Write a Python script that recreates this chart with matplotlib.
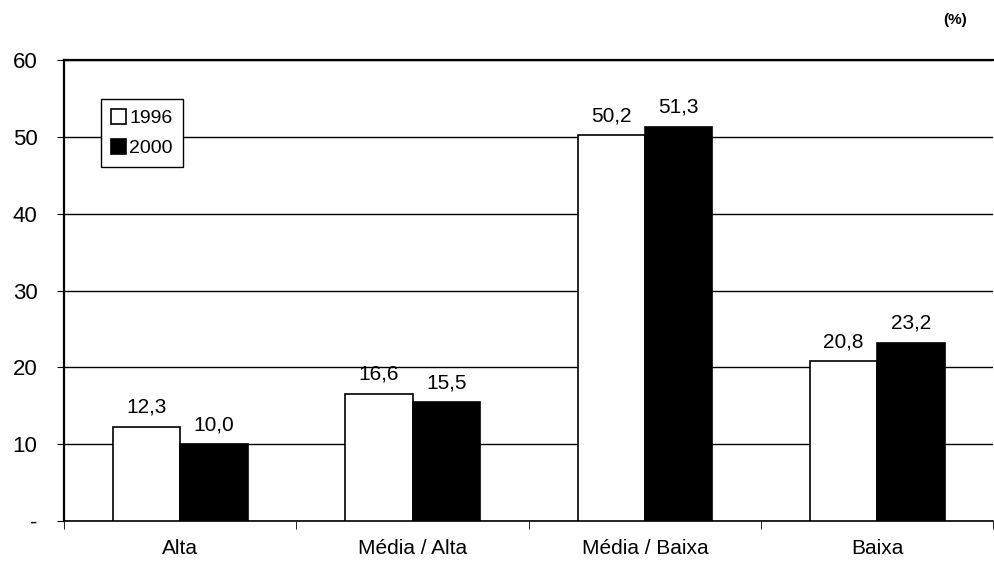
import numpy as np
import matplotlib.pyplot as plt

plt.rcParams['font.family'] = ['Liberation Sans', 'DejaVu Sans']

categories = ["Alta", "Média / Alta", "Média / Baixa", "Baixa"]
vals_1996 = [12.3, 16.6, 50.2, 20.8]
vals_2000 = [10.0, 15.5, 51.3, 23.2]
yticks = [0, 10, 20, 30, 40, 50, 60]
ytick_labels = ["-", "10", "20", "30", "40", "50", "60"]

fig = plt.figure(figsize=(9.94, 5.72), dpi=100)
ax = fig.add_axes([0.0644, 0.089, 0.935, 0.806])

x = np.arange(len(categories))
w = 0.29
ax.bar(x - w / 2, vals_1996, w, facecolor="white", edgecolor="black", linewidth=1.2,
       label="1996", zorder=3)
ax.bar(x + w / 2, vals_2000, w, facecolor="black", edgecolor="black", linewidth=1.2,
       label="2000", zorder=3)

for xi, v in zip(x, vals_1996):
    ax.text(xi - w / 2, v + 1.3, f"{v:.1f}".replace(".", ","), ha="center", va="bottom",
            fontsize=15)
for xi, v in zip(x, vals_2000):
    ax.text(xi + w / 2, v + 1.3, f"{v:.1f}".replace(".", ","), ha="center", va="bottom",
            fontsize=15)

ax.set_xlim(-0.5, len(categories) - 0.5)
ax.set_ylim(0, 60)
ax.set_yticks(yticks)
ax.set_yticklabels(ytick_labels, fontsize=16)
ax.set_xticks(x)
ax.set_xticklabels(categories, fontsize=15)
ax.tick_params(axis="x", length=0, pad=13)
ax.set_xticks(np.arange(len(categories) + 1) - 0.5, minor=True)
ax.tick_params(axis="x", which="minor", length=6, direction="out")
ax.tick_params(axis="y", length=5, direction="out", pad=14)

ax.yaxis.grid(True, color="black", linewidth=1.0)
ax.set_axisbelow(True)
ax.spines["right"].set_visible(False)
ax.spines["top"].set_linewidth(1.6)
ax.spines["left"].set_linewidth(1.6)
ax.spines["bottom"].set_linewidth(1.2)

leg = ax.legend(loc="upper left", bbox_to_anchor=(0.04, 0.915), fontsize=14,
                frameon=True, fancybox=False, edgecolor="black", framealpha=1,
                handlelength=0.8, handleheight=0.8, handletextpad=0.15,
                borderpad=0.5, labelspacing=0.6, borderaxespad=0)
leg.get_frame().set_linewidth(1.0)

fig.text(0.961, 0.965, "(%)", fontsize=11, fontweight="bold", ha="center", va="center")

fig.savefig("out.png", dpi=100)
